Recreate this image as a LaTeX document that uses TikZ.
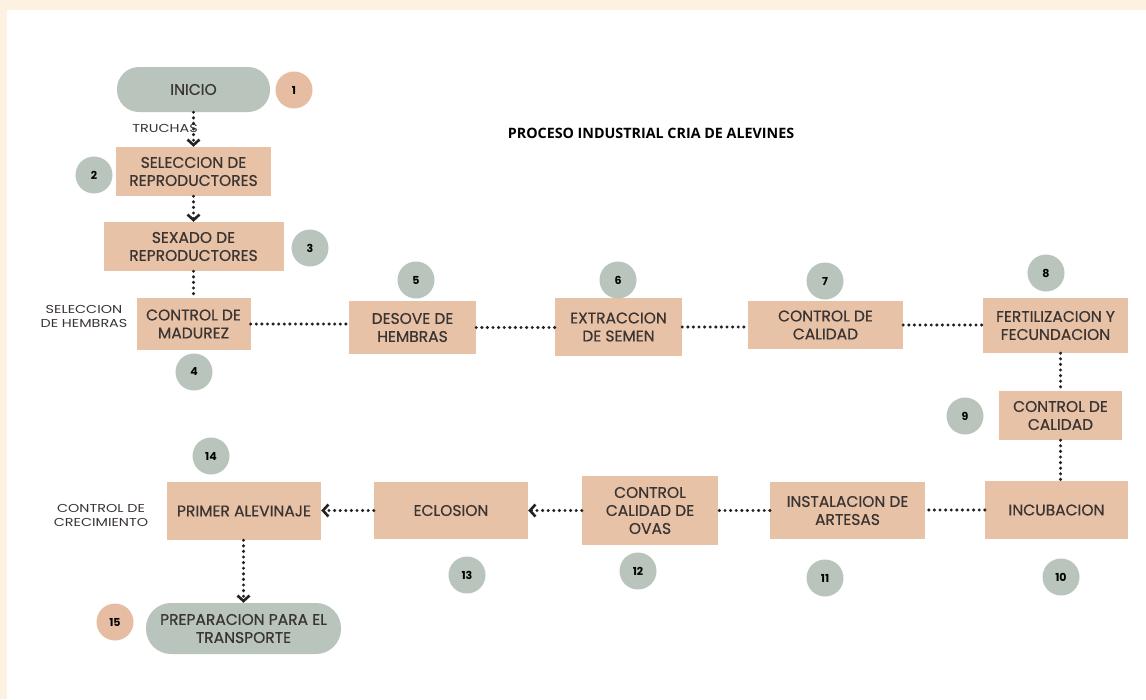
\documentclass[tikz,border=0pt]{standalone}
\usepackage{fontspec}
\setmainfont{Poppins}
\newfontfamily\boxfont{Poppins}[FakeBold=0.5]
\newfontfamily\lblfont{Poppins}[FakeStretch=1.25]
\newfontfamily\titlefont{Open Sans}
\usetikzlibrary{arrows.meta}
\definecolor{cream}{HTML}{FDF1E2}
\definecolor{peach}{HTML}{E8C2A6}
\definecolor{peachc}{HTML}{E6BDA3}
\definecolor{sage}{HTML}{B9C4BC}
\definecolor{txt}{HTML}{3A3433}
\definecolor{dotc}{HTML}{222222}
\tikzset{
  box/.style={fill=peach, draw=none, text=txt, align=center, inner sep=2pt,
    font=\boxfont\fontsize{15.5}{18}\selectfont},
  pill/.style={fill=sage, draw=none, text=txt, align=center, rounded corners=22pt,
    font=\boxfont\fontsize{15.5}{18}\selectfont},
  num/.style={circle, draw=none, minimum size=37pt, inner sep=0pt, text=black,
    font=\fontsize{11}{12}\selectfont\bfseries},
  lbl/.style={text=txt, align=center, font=\lblfont\fontsize{11.5}{14}\selectfont},
  dots/.style={draw=dotc, line width=3.4pt, dash pattern=on 0pt off 5.6pt, line cap=round},
  arr/.style={dots, -{Straight Barb[length=5.5pt,width=12pt,line width=2.6pt]}},
}
\begin{document}
\begin{tikzpicture}[x=1pt,y=-1pt]
\useasboundingbox (0,0) rectangle (1146,699);
\fill[cream] (0,0) rectangle (1146,699);
\fill[white] (7,10) rectangle (1146,699);

\node[font=\titlefont\bfseries\fontsize{14.3}{16}\selectfont, text=black] (title) at (651,133) {PROCESO INDUSTRIAL CRIA DE ALEVINES};

% nodes
\node[pill, minimum width=153pt, minimum height=45pt] (b1) at (193.5,89.5) {INICIO};
\node[box, minimum width=155pt, minimum height=49pt] (b2) at (193.5,171.5) {SELECCION DE\\REPRODUCTORES};
\node[box, minimum width=180pt, minimum height=49pt] (b3) at (193.5,246.5) {SEXADO DE\\REPRODUCTORES};
\node[box, minimum width=114pt, minimum height=52pt] (b4) at (193.5,324) {CONTROL DE\\MADUREZ};
\node[box, minimum width=127pt, minimum height=53pt] (b5) at (412.5,327.5) {DESOVE DE\\HEMBRAS};
\node[box, minimum width=127pt, minimum height=58pt] (b6) at (618.5,327) {EXTRACCION\\DE SEMEN};
\node[box, minimum width=155pt, minimum height=48pt] (b7) at (825.5,325) {CONTROL DE\\CALIDAD};
\node[box, minimum width=145pt, minimum height=55pt] (b8) at (1055.5,325.5) {FERTILIZACION Y\\FECUNDACION};
\node[box, minimum width=123pt, minimum height=49pt] (b9) at (1060.5,415.5) {CONTROL DE\\CALIDAD};
\node[box, minimum width=143pt, minimum height=58pt] (b10) at (1056.5,510) {INCUBACION};
\node[box, minimum width=155pt, minimum height=57pt] (b11) at (847.5,510.5) {INSTALACION DE\\ARTESAS};
\node[box, minimum width=136pt, minimum height=69pt] (b12) at (650,510.5) {CONTROL\\CALIDAD DE\\OVAS};
\node[box, minimum width=154pt, minimum height=57pt] (b13) at (451,510.5) {ECLOSION};
\node[box, minimum width=154pt, minimum height=58pt] (b14) at (244,511) {PRIMER ALEVINAJE};
\node[pill, minimum width=195pt, minimum height=51pt, rounded corners=25pt] (b15) at (243.5,628.5) {PREPARACION PARA EL\\TRANSPORTE};

% number circles
\node[num, fill=peachc] (n1) at (294,90) {1};
\node[num, fill=sage] (n2) at (94,175) {2};
\node[num, fill=sage] (n3) at (310,248) {3};
\node[num, fill=sage] (n4) at (194,372) {4};
\node[num, fill=sage] (n5) at (416,280) {5};
\node[num, fill=sage] (n6) at (618,280) {6};
\node[num, fill=sage] (n7) at (825,281) {7};
\node[num, fill=sage] (n8) at (1046,273) {8};
\node[num, fill=sage] (n9) at (965,416) {9};
\node[num, fill=sage] (n10) at (1061,577) {10};
\node[num, fill=sage] (n11) at (825,578) {11};
\node[num, fill=sage] (n12) at (638,571) {12};
\node[num, fill=sage] (n13) at (467,575) {13};
\node[num, fill=sage] (n14) at (211,456) {14};
\node[num, fill=peachc] (n15) at (115,622) {15};

% side labels
\node[lbl] (l1) at (165,128) {TRUCHAS};
\node[lbl] (l2) at (84,316) {SELECCION\\DE HEMBRAS};
\node[lbl] (l3) at (101,515) {CONTROL DE\\CRECIMIENTO};

% connectors
\draw[arr] (b1.south) -- (b2.north);
\draw[arr] (b2.south) -- (b3.north);
\draw[dots] (b3.south) -- (b4.north);
\draw[dots] (b4.east) -- (b4.east -| b5.west);
\draw[dots] (b5.east) -- (b5.east -| b6.west);
\draw[dots] (b6.east) -- (b6.east -| b7.west);
\draw[dots] (b7.east) -- (b7.east -| b8.west);
\draw[dots] (b8.south -| b9.north) -- (b9.north);
\draw[dots] (b9.south) -- (b9.south |- b10.north);
\draw[dots] (b10.west) -- (b10.west -| b11.east);
\draw[dots] (b11.west) -- (b11.west -| b12.east);
\draw[arr] (b12.west) -- (b12.west -| b13.east);
\draw[arr] (b13.west) -- (b13.west -| b14.east);
\draw[arr] (b14.south -| b15.north) -- (b15.north);
\end{tikzpicture}
\end{document}
